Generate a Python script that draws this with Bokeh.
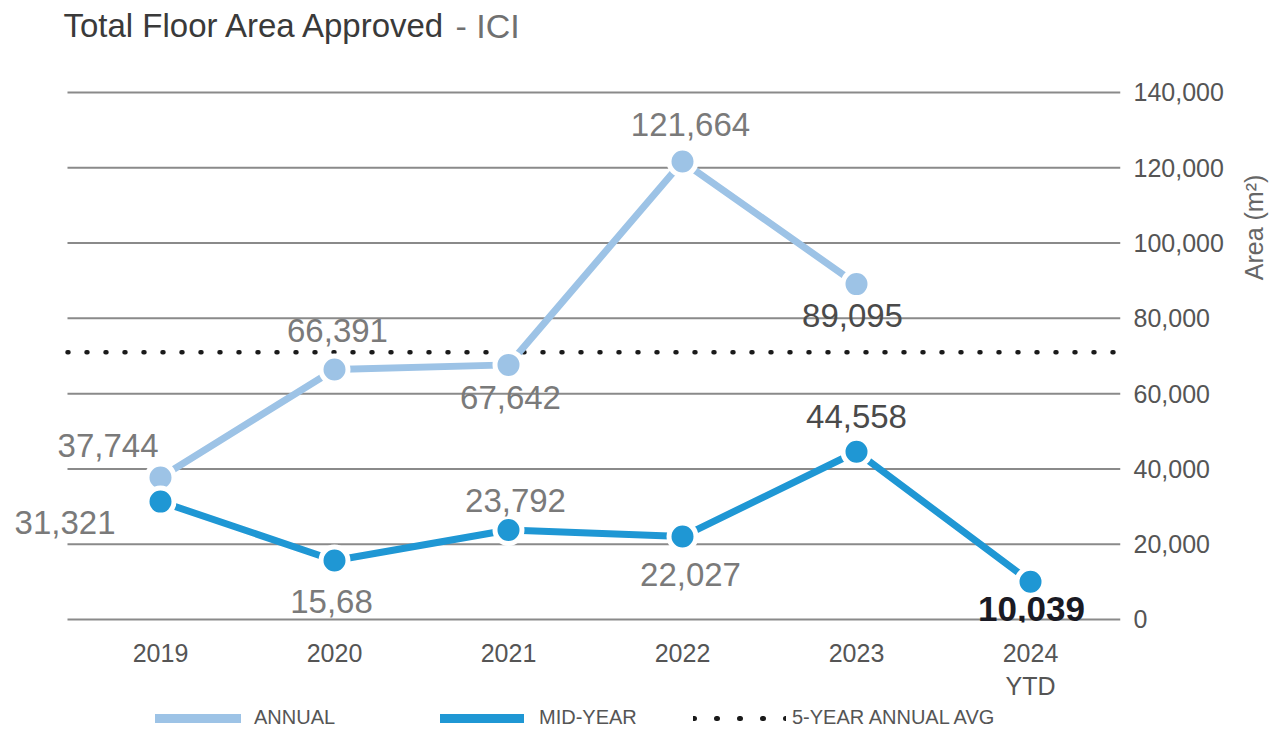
import math
from bokeh.plotting import figure
from bokeh.layouts import column, row
from bokeh.models import (ColumnDataSource, LabelSet, Label, Legend, LegendItem,
                          FixedTicker, NumeralTickFormatter, Range1d)
from bokeh.core.properties import value
from bokeh.embed import file_html
from bokeh.resources import INLINE

# ---------------- data ----------------
years = ["2019", "2020", "2021", "2022", "2023", "2024\nYTD"]
annual = [37744, 66391, 67642, 121664, 89095]
mid_year = [31321, 15680, 23792, 22027, 44558, 10039]
annual_labels = ["37,744", "66,391", "67,642", "121,664", "89,095"]
mid_labels = ["31,321", "15,68", "23,792", "22,027", "44,558", "10,039"]
avg_5yr = 71000
y_ticks = [0, 20000, 40000, 60000, 80000, 100000, 120000, 140000]
legend_names = ["ANNUAL", "MID-YEAR", "5-YEAR ANNUAL AVG"]
y_title = "Area (m²)"

# ---------------- layout / styling (not data) ----------------
X_START, X_END = -0.9195, 5.5172      # frame covers the left margin so labels are not clipped
GRID_X0 = -0.5345                     # where the horizontal rules start
Y_START, Y_END = -797, 164440

annual_dx = [-2, 3, 2, 8, -4]
annual_dy = [20, 28, -44, 26, -43]
annual_align = ["right", "center", "center", "center", "center"]
annual_color = ["#7a7a7a", "#7a7a7a", "#7a7a7a", "#7a7a7a", "#4a4a4a"]
mid_dx = [-45, -3, 7, 8, 0, 1]
mid_dy = [-32, -53, 18, -49, 24, -39]
mid_align = ["right", "center", "center", "center", "center", "center"]
mid_color = ["#7a7a7a", "#7a7a7a", "#7a7a7a", "#7a7a7a", "#4a4a4a", "#1a1a24"]
mid_style = ["normal"] * 5 + ["bold"]
mid_size = ["33px"] * 5 + ["35px"]

ANNUAL_C = "#9dc3e6"
MID_C = "#1f97d4"
AVG_C = "#1a1a1a"
FONT = "Liberation Sans"

idx = list(range(len(years)))

p = figure(width=1240, height=704, output_backend="svg", toolbar_location=None,
           x_range=Range1d(X_START, X_END), y_range=Range1d(Y_START, Y_END),
           y_axis_location="right",
           min_border_left=0, min_border_right=120, min_border_top=0, min_border_bottom=82,
           outline_line_color=None, background_fill_color="white", border_fill_color="white")

# axes
xa = p.xaxis[0]
xa.ticker = FixedTicker(ticks=idx)
xa.major_label_overrides = {i: years[i] for i in idx}
xa.axis_line_color = None
xa.major_tick_line_color = None
xa.minor_tick_line_color = None
xa.major_label_standoff = 10
xa.major_label_text_font = FONT
xa.major_label_text_font_size = "25px"
xa.major_label_text_color = "#555555"

ya = p.yaxis[0]
ya.ticker = FixedTicker(ticks=y_ticks)
ya.formatter = NumeralTickFormatter(format="0,0")
ya.axis_line_color = None
ya.major_tick_line_color = None
ya.minor_tick_line_color = None
ya.major_label_standoff = 7
ya.major_label_text_font = FONT
ya.major_label_text_font_size = "25px"
ya.major_label_text_color = "#555555"

p.xgrid.visible = False
p.ygrid.visible = False

# horizontal rules at the tick values
p.segment(x0=[GRID_X0] * len(y_ticks), x1=[X_END] * len(y_ticks), y0=y_ticks, y1=y_ticks,
          line_color="#8a8a8a", line_width=2)

# 5-year average dotted line
p.segment(x0=[GRID_X0], x1=[X_END], y0=[avg_5yr], y1=[avg_5yr], line_color=AVG_C,
          line_width=4.5, line_dash="1 18", line_cap="round")

# series lines
p.line(idx[:len(annual)], annual, line_color=ANNUAL_C, line_width=7)
p.line(idx, mid_year, line_color=MID_C, line_width=7)
p.scatter(idx[:len(annual)], annual, size=27, fill_color=ANNUAL_C, line_color="white", line_width=5)
p.scatter(idx, mid_year, size=27, fill_color=MID_C, line_color="white", line_width=5)

# data labels
lab_src = ColumnDataSource(dict(
    x=idx[:len(annual)] + idx,
    y=annual + mid_year,
    text=annual_labels + mid_labels,
    dx=annual_dx + mid_dx,
    dy=annual_dy + mid_dy,
    align=annual_align + mid_align,
    color=annual_color + mid_color,
    style=["normal"] * len(annual) + mid_style,
    size=["33px"] * len(annual) + mid_size,
))
p.add_layout(LabelSet(x="x", y="y", text="text", source=lab_src, x_offset="dx", y_offset="dy",
                      text_align="align", text_baseline="alphabetic", text_color="color",
                      text_font_style="style", text_font=value(FONT), text_font_size="size"))

# title (inside the frame, top-left)
p.add_layout(Label(x=63, y=597, x_units="screen", y_units="screen", text="Total Floor Area Approved",
                   text_font=FONT, text_font_size="33px", text_color="#3a3a3a",
                   text_baseline="alphabetic", text_align="left"))
p.add_layout(Label(x=455, y=597, x_units="screen", y_units="screen", text="- ICI",
                   text_font=FONT, text_font_size="34px", text_color="#707070",
                   text_baseline="alphabetic", text_align="left"))

# ---------------- y-axis title strip (right) ----------------
r = figure(width=30, height=704, output_backend="svg", toolbar_location=None,
           x_range=Range1d(0, 1), y_range=Range1d(0, 1),
           x_axis_location=None, y_axis_location=None,
           min_border_left=0, min_border_right=0, min_border_top=0, min_border_bottom=0,
           outline_line_color=None, background_fill_color="white", border_fill_color="white")
r.grid.visible = False
r.add_layout(Label(x=13, y=395, x_units="screen", y_units="screen", text=y_title,
                   angle=math.pi / 2, text_font=FONT, text_font_size="25px",
                   text_color="#666666", text_align="center", text_baseline="middle"))

# ---------------- legend strip (bottom) ----------------
q = figure(width=1270, height=27, output_backend="svg", toolbar_location=None,
           x_range=Range1d(0, 1), y_range=Range1d(0, 1),
           x_axis_location=None, y_axis_location=None,
           min_border_left=0, min_border_right=0, min_border_top=0, min_border_bottom=0,
           outline_line_color=None, background_fill_color="white", border_fill_color="white")
q.grid.visible = False
nan = float("nan")
r_a = q.line([nan], [nan], line_color=ANNUAL_C, line_width=9, line_cap="round")
r_m = q.line([nan], [nan], line_color=MID_C, line_width=9, line_cap="round")
r_avg = q.line([nan], [nan], line_color=AVG_C, line_width=5, line_dash="1 22", line_cap="round")

leg_specs = [  # (renderer, x position px, glyph width, standoff)
    (r_a, 155, 86, 13),
    (r_m, 440, 84, 15),
    (r_avg, 693, 93, 6),
]
for name, (rend, lx, gw, so) in zip(legend_names, leg_specs):
    lg = Legend(items=[LegendItem(label=name, renderers=[rend])], location=(lx, 2),
                orientation="horizontal", glyph_width=gw, glyph_height=20, label_standoff=so,
                padding=0, margin=0, border_line_color=None, background_fill_alpha=0,
                label_text_font=FONT, label_text_font_size="20px", label_text_color="#555555")
    q.add_layout(lg, "center")

layout = column(row(p, r, spacing=0), q, spacing=0)
open("out.html", "w").write(file_html(layout, INLINE))
